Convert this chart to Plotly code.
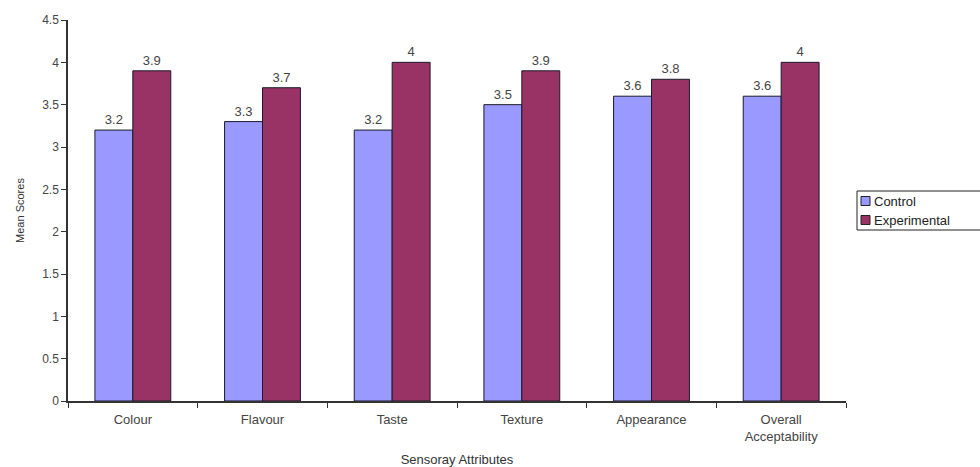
import plotly.graph_objects as go

categories = ["Colour", "Flavour", "Taste", "Texture", "Appearance", "Overall<br>Acceptability"]
control = [3.2, 3.3, 3.2, 3.5, 3.6, 3.6]
experimental = [3.9, 3.7, 4.0, 3.9, 3.8, 4.0]
y_ticks = [0, 0.5, 1, 1.5, 2, 2.5, 3, 3.5, 4, 4.5]
y_tick_text = ["0", "0.5", "1", "1.5", "2", "2.5", "3", "3.5", "4", "4.5"]
series_names = ["Control", "Experimental"]
series_colors = ["#9999FF", "#993366"]

FONT = "Liberation Sans, Arial, sans-serif"
TEXT = "#444444"

W, H = 980, 467
M = dict(l=68, r=134, t=20, b=66)
PW = W - M["l"] - M["r"]
PH = H - M["t"] - M["b"]


def px_x(x):
    return (x - M["l"]) / PW


def px_y(y):
    return (H - M["b"] - y) / PH


fig = go.Figure()
for name, vals, col in zip(series_names, [control, experimental], series_colors):
    fig.add_trace(go.Bar(
        name=name, x=categories, y=vals,
        marker=dict(color=col, line=dict(color="#1a1a2a", width=1)),
        text=[f"{v:g}" for v in vals], textposition="outside",
        textfont=dict(family=FONT, size=13, color=TEXT), cliponaxis=False,
        showlegend=False,
    ))

# compact boxed legend at the right
shapes = [dict(type="rect", xref="paper", yref="paper",
               x0=px_x(857), x1=px_x(985), y0=px_y(191), y1=px_y(230),
               line=dict(color="#222222", width=1), fillcolor="white", layer="above")]
annotations = []
for i, (name, col) in enumerate(zip(series_names, series_colors)):
    cy = 201 + i * 19
    shapes.append(dict(type="rect", xref="paper", yref="paper",
                       x0=px_x(861), x1=px_x(870), y0=px_y(cy + 4.5), y1=px_y(cy - 4.5),
                       line=dict(color="#222222", width=1), fillcolor=col, layer="above"))
    annotations.append(dict(xref="paper", yref="paper", x=px_x(872), y=px_y(cy),
                            xanchor="left", yanchor="middle", showarrow=False,
                            text=name, font=dict(family=FONT, size=13, color="#222222")))

fig.update_layout(
    width=W, height=H,
    margin=M,
    paper_bgcolor="white", plot_bgcolor="white",
    barmode="group", bargap=0.415, bargroupgap=0,
    font=dict(family=FONT, size=12, color=TEXT),
    shapes=shapes, annotations=annotations,
)
fig.update_xaxes(
    automargin=False,
    showline=True, linecolor="#333333", linewidth=1.5,
    ticks="outside", tickson="boundaries", ticklen=5, tickcolor="#333333",
    ticklabelstandoff=6,
    tickfont=dict(family=FONT, size=13, color=TEXT),
    title=dict(text="Sensoray Attributes", font=dict(family=FONT, size=13, color="#333333")),
    showgrid=False,
)
fig.update_yaxes(
    automargin=False,
    range=[0, 4.5], tickvals=y_ticks, ticktext=y_tick_text,
    showline=True, linecolor="#333333", linewidth=1.5,
    ticks="outside", ticklen=5, tickcolor="#333333",
    tickfont=dict(family=FONT, size=12, color=TEXT),
    title=dict(text="Mean Scores", font=dict(family=FONT, size=11, color="#333333")),
    showgrid=False, zeroline=False,
)

fig.write_html("out.html")
